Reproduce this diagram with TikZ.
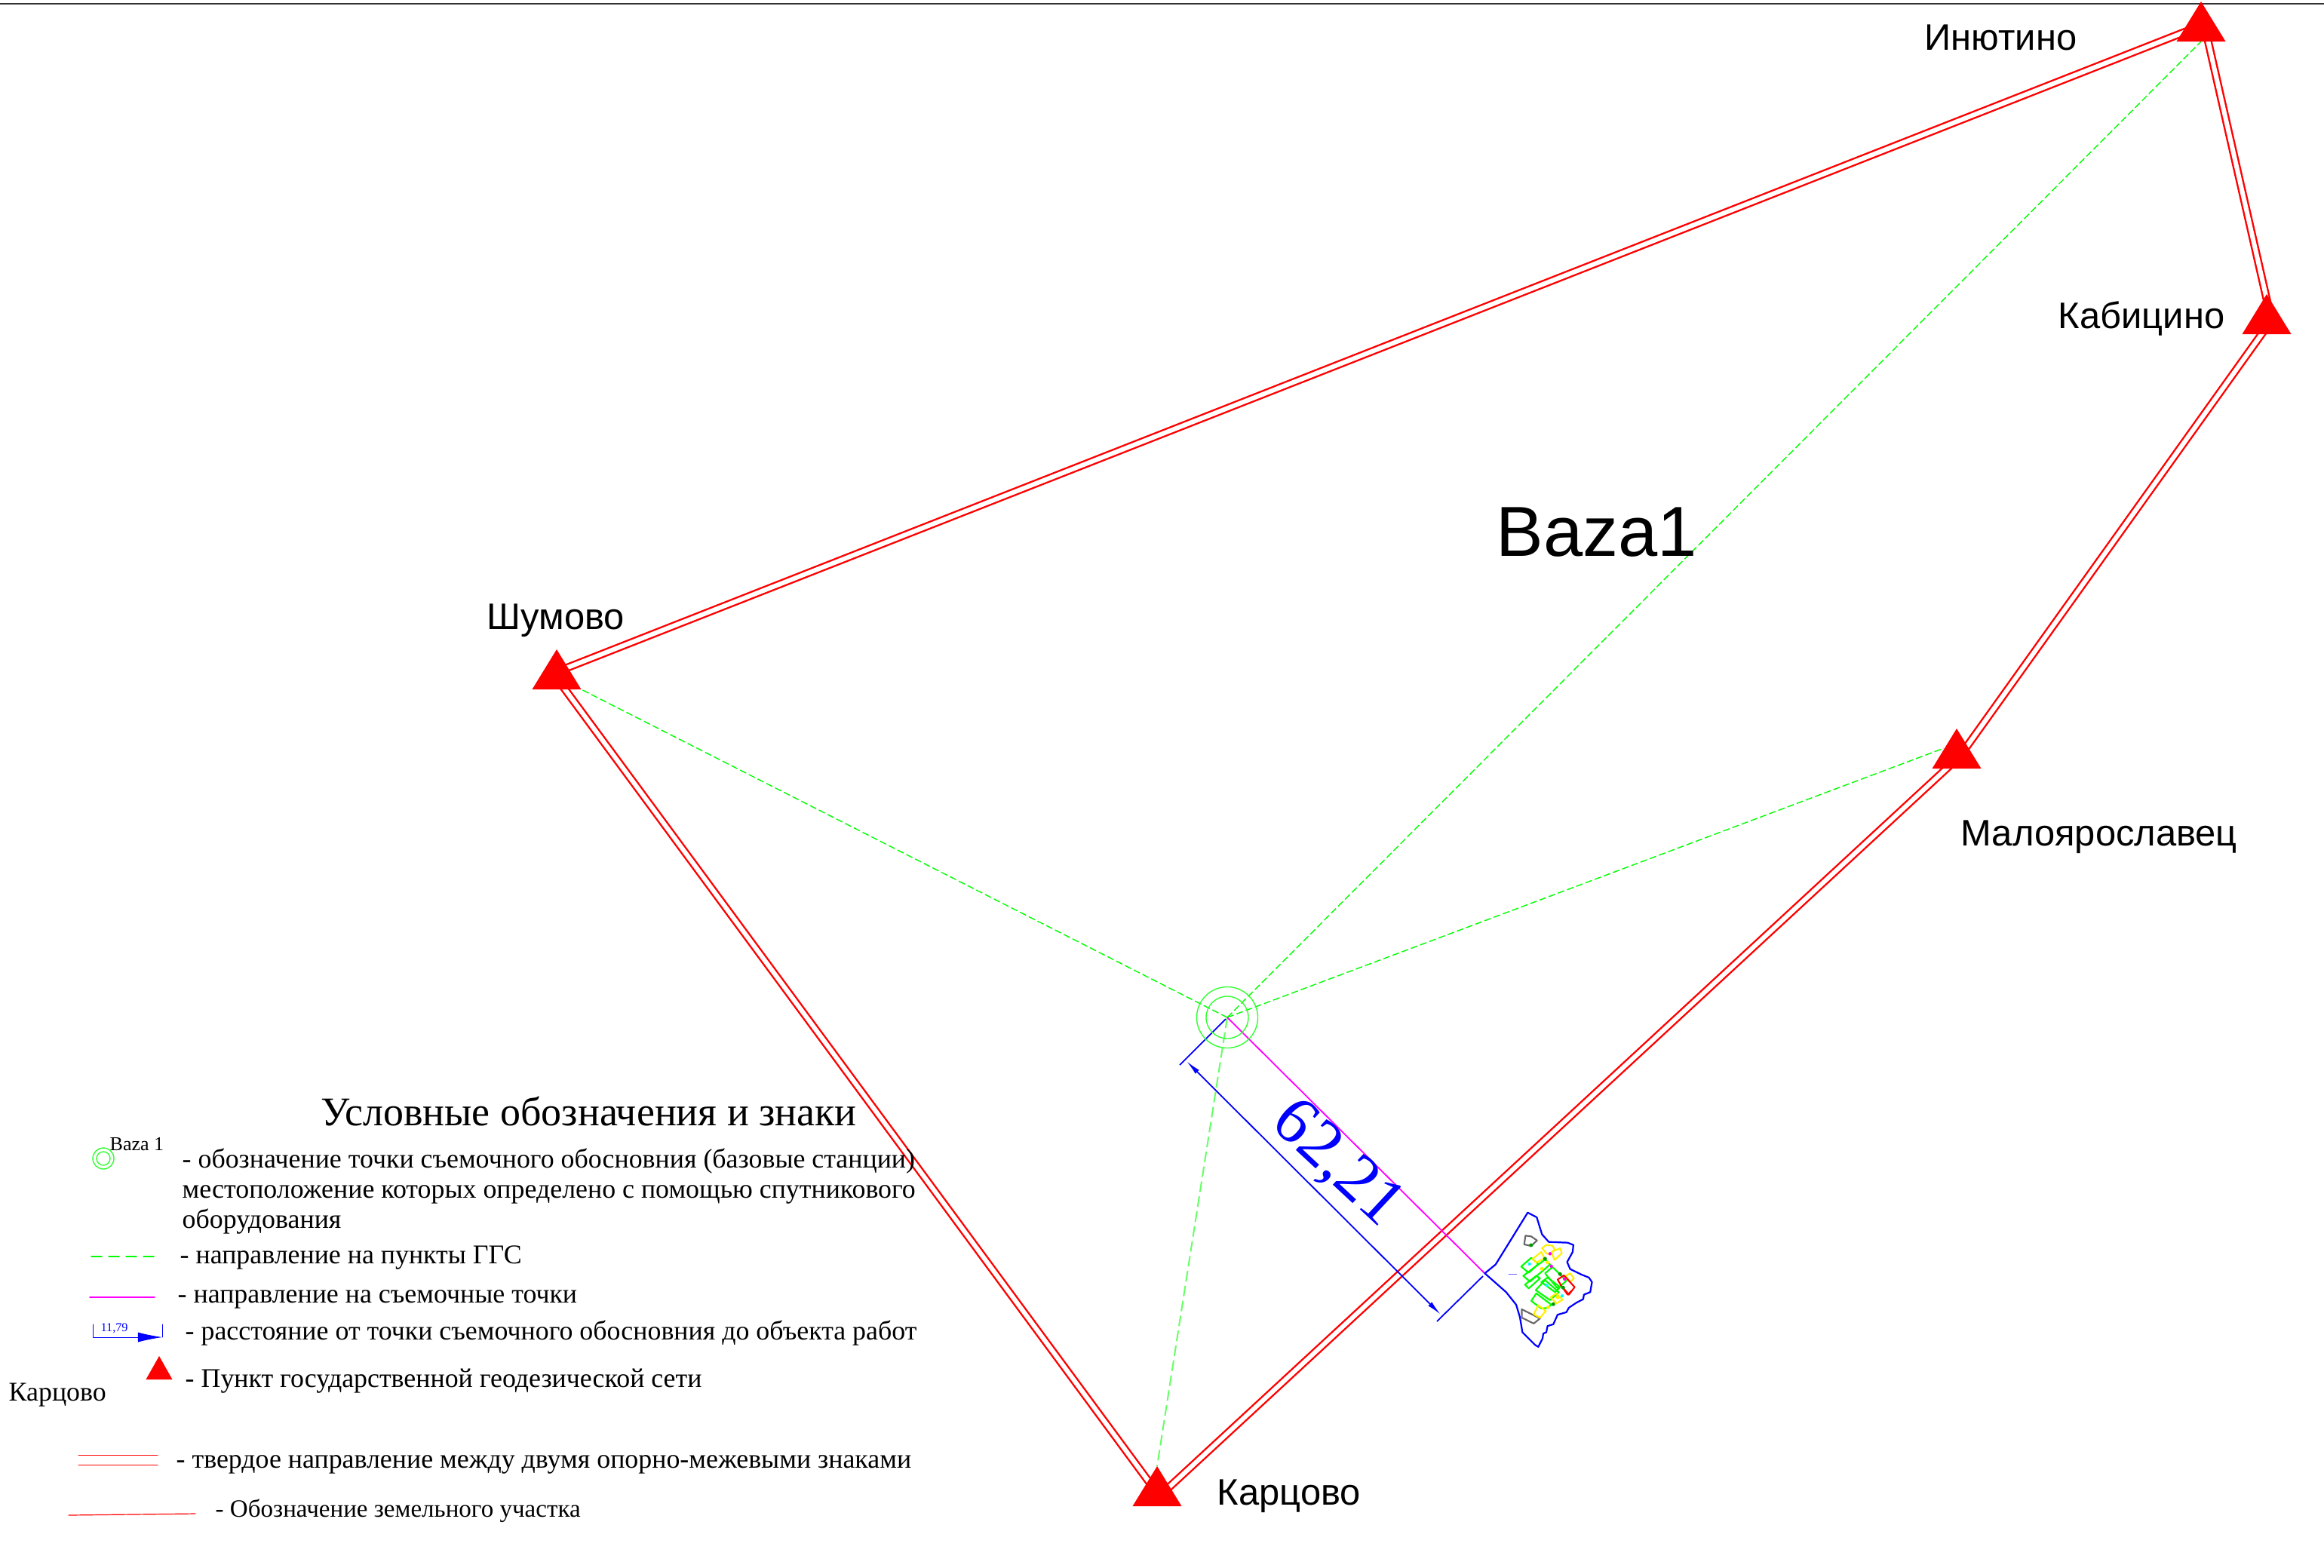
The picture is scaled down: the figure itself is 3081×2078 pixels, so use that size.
\documentclass[tikz,border=0pt]{standalone}
\usepackage{fontspec}
\setmainfont{Liberation Serif}
\setsansfont{Liberation Sans}
\usetikzlibrary{arrows.meta,shapes.geometric,backgrounds}
\definecolor{zel}{HTML}{33FF33}
\definecolor{zelsv}{HTML}{66FF66}
\definecolor{ser}{HTML}{666666}
\definecolor{mag}{HTML}{FF00FF}
\definecolor{gol}{HTML}{00FFFF}
\definecolor{zhel}{HTML}{FFF000}
\tikzset{
punkt/.style={isosceles triangle,isosceles triangle stretches=true,shape border rotate=90,fill=red,inner sep=0pt,outer sep=0pt,minimum width=0.65cm,minimum height=0.53cm,anchor=apex},
tverd/.style={draw=red,line width=0.024cm,double=white,double distance=0.06cm},
napr/.style={draw=green,line width=0.014cm,dash pattern=on 0.09cm off 0.04cm},
semka/.style={draw=mag,line width=0.018cm},
razmer/.style={draw=blue,line width=0.018cm},
kontur/.style={draw=blue,line width=0.022cm},
zd/.style={line width=0.021cm},
imya/.style={font=\sffamily\fontsize{13.9}{16}\selectfont,anchor=base west,inner sep=0pt},
leg/.style={font=\fontsize{10.2}{12}\selectfont,anchor=base west,inner sep=0pt},
krug/.style={circle,draw=zel,line width=0.014cm,inner sep=0pt}
}
\begin{document}
\begin{tikzpicture}[line cap=round,line join=round,x=0.01cm,y=-0.01cm]
\useasboundingbox (0,0) rectangle (3081,2078);
\draw [line width=0.02cm,black!80] (0,5)-- (3081,5);
% punkty GGS
\node [punkt] (inyutino) at (2918,2) {};
\node [punkt] (kabicino) at (3005,390) {};
\node [punkt] (malo) at (2594,966) {};
\node [punkt] (shumovo) at (738,861) {};
\node [punkt] (karcovo) at (1534,1944) {};
\node [krug,minimum size=0.81cm] (baza) at (1627,1349) {};
\node [krug,minimum size=0.56cm] (bazain) at (1627,1349) {};
\node [imya] (tinyutino) at (2551,66) {Инютино};
\node [imya] (tkabicino) at (2728,435) {Кабицино};
\node [imya] (tshumovo) at (645,834) {Шумово};
\node [imya] (tmalo) at (2599,1121) {Малоярославец};
\node [imya] (tkarcovo) at (1613,1995) {Карцово};
\node [font=\sffamily\fontsize{26.7}{30}\selectfont,anchor=base west,inner sep=0pt] (tbaza) at (1983,737) {Baza1};
\coordinate (a1) at (745,888);
\coordinate (a2) at (2905,39);
\coordinate (b1) at (2924,40);
\coordinate (b2) at (3008,410);
\coordinate (c1) at (3009,428);
\coordinate (c2) at (2598,1003);
\coordinate (d1) at (1541,1980);
\coordinate (e1) at (735,895);
\coordinate (e2) at (1530,1974);
\coordinate (obekt) at (1968,1688);
\coordinate (r1) at (1625,1351);
\coordinate (r2) at (1564,1412);
\coordinate (r3) at (1573,1407);
\coordinate (r4) at (1910,1743);
\coordinate (r5) at (1966,1692);
\coordinate (r6) at (1905,1752);
\begin{scope}[on background layer]
\draw [tverd] (a1)-- (a2);
\draw [tverd] (b1)-- (b2);
\draw [tverd] (c1)-- (c2);
\draw [tverd] (c2)-- (d1);
\draw [tverd] (e1)-- (e2);
\draw [napr] (baza.center)-- (shumovo.right corner);
\draw [napr] (baza.center)-- (inyutino.south);
\draw [napr] (baza.center)-- (2577,992);
\draw [napr,draw=zelsv,line width=0.02cm,dash pattern=on 0.14cm off 0.06cm] (baza.center)-- (karcovo.apex);
\draw [semka] (baza.center)-- (obekt);
\draw [razmer] (r1)-- (r2);
\draw [razmer] (r5)-- (r6);
\draw [razmer,{Latex[length=0.2cm,width=0.07cm]}-{Latex[length=0.2cm,width=0.07cm]}] (r3)-- (r4);
\end{scope}
\node [rotate=-43,blue,font=\fontsize{25.5}{28}\selectfont,inner sep=0pt] (dlina) at (1772,1544) {62,21};
% obekt rabot
\begin{scope}[shift={(2020,1640)},x=0.00333cm,y=-0.00333cm]
\draw [kontur] (-155,145)-- (-112,110)-- (16,-97)-- (52,-78)-- (73,-10)-- (100,20)-- (175,23)-- (198,32)-- (195,60)-- (173,100)-- (185,128)-- (230,150)-- (260,162)-- (272,180)-- (265,220)-- (240,230)-- (237,248)-- (210,262)-- (180,282)-- (170,300)-- (135,310)-- (118,348)-- (95,355)-- (90,380)-- (78,385)-- (75,405)-- (58,438)-- (45,430)-- (-5,380)-- (-15,320)-- (-30,270)-- (-70,220)-- cycle;
\draw [draw=blue!60,line width=0.008cm] (-60,148)-- (-28,148);
\draw [zd,draw=ser] (7,-5)-- (30,-2)-- (53,14)-- (30,36)-- (2,30)-- cycle;
\draw [zd,draw=ser] (-8,288)-- (65,325)-- (40,345)-- (-7,322)-- cycle;
\foreach \zda in {{(-10,118)-- (30,83)-- (58,108)-- (20,143)},{(-2,155)-- (85,90)-- (105,110)-- (25,178)},{(5,190)-- (50,155)-- (65,165)-- (20,205)},{(85,145)-- (115,120)-- (170,175)-- (135,205)},{(48,212)-- (85,172)-- (140,220)-- (105,252)},{(30,255)-- (50,225)-- (110,270)-- (95,283)-- (70,285)},{(70,180)-- (95,162)-- (145,200)-- (125,220)}}
\draw [zd,draw=green] \zda-- cycle;
\foreach \zda in {{(35,88)-- (70,60)-- (83,85)-- (50,102)},{(73,45)-- (90,32)-- (115,35)-- (123,50)-- (105,70)-- (90,65)},{(110,60)-- (145,45)-- (152,65)-- (123,92)},{(168,155)-- (185,145)-- (200,165)-- (185,180)},{(108,240)-- (130,225)-- (155,250)-- (130,265)},{(40,308)-- (58,272)-- (88,295)-- (65,322)}}
\draw [zd,draw=zhel] \zda-- cycle;
\draw [zd,draw=red] (135,170)-- (160,153)-- (203,200)-- (180,230)-- (150,195)-- cycle;
\draw [zd,draw=red] (150,195)-- (175,230)-- (190,215);
\foreach \dx/\dy in {95/102,72/127,98/280,135/240} \fill [zhel] (\dx,\dy) circle (0.025cm);
\foreach \dx/\dy in {23/108,92/193,153/235} \fill [gol] (\dx,\dy) circle (0.022cm);
\foreach \dx/\dy in {105/67,110/117,163/168} \fill [mag] (\dx,\dy) circle (0.022cm);
\foreach \dx/\dy in {29/33,85/87,145/148,118/268,157/202} \fill [green!60!black] (\dx,\dy) circle (0.025cm);
\end{scope}
% uslovnye oboznacheniya
\node [leg,font=\fontsize{15.35}{17}\selectfont] (zagl) at (425,1492) {Условные обозначения и знаки};
\node [krug,minimum size=0.28cm] (zn1) at (137,1536) {};
\node [krug,minimum size=0.18cm] (zn1in) at (137,1536) {};
\node [leg,font=\fontsize{7.4}{8}\selectfont] (zn1t) at (145,1525) {Baza 1};
\node [leg] (s1) at (241,1548) {- обозначение точки съемочного обосновния (базовые станции)};
\node [leg] (s2) at (241,1588) {местоположение которых определено с помощью спутникового};
\node [leg] (s3) at (241,1628) {оборудования};
\coordinate (z2a) at (121,1666);
\coordinate (z2b) at (209,1666);
\draw [napr,dash pattern=on 0.14cm off 0.09cm] (z2a)-- (z2b);
\node [leg] (s4) at (238,1675) {- направление на пункты ГГС};
\coordinate (z3a) at (119,1720);
\coordinate (z3b) at (205,1720);
\draw [semka] (z3a)-- (z3b);
\node [leg] (s5) at (235,1727) {- направление на съемочные точки};
\coordinate (z4a) at (123,1756);
\coordinate (z4b) at (123,1773);
\coordinate (z4c) at (215,1773);
\coordinate (z4d) at (215,1756);
\draw [razmer,line width=0.008cm,-{Latex[length=0.32cm,width=0.13cm]}] (z4a)-- (z4b)-- (z4c);
\draw [razmer,line width=0.008cm] (z4c)-- (z4d);
\node [leg,blue,font=\fontsize{4.6}{5}\selectfont] (z4t) at (133,1765) {11,79};
\node [leg] (s6) at (245,1776) {- расстояние от точки съемочного обосновния до объекта работ};
\node [punkt,minimum width=0.35cm,minimum height=0.31cm] (z5) at (211,1798) {};
\node [leg] (s7) at (245,1839) {- Пункт государственной геодезической сети};
\node [leg] (s8) at (11,1857) {Карцово};
\coordinate (z6a) at (104,1929);
\coordinate (z6b) at (209,1929);
\coordinate (z6c) at (104,1942);
\coordinate (z6d) at (209,1942);
\draw [draw=red,line width=0.01cm] (z6a)-- (z6b);
\draw [draw=red,line width=0.01cm] (z6c)-- (z6d);
\node [leg] (s9) at (233,1946) {- твердое направление между двумя опорно-межевыми знаками};
\coordinate (z7a) at (91,2009);
\coordinate (z7b) at (259,2007);
\draw [draw=red,line width=0.012cm] (z7a)-- (z7b);
\node [leg,font=\fontsize{9.4}{11}\selectfont] (s10) at (285,2011) {- Обозначение земельного участка};
\end{tikzpicture}
\end{document}
